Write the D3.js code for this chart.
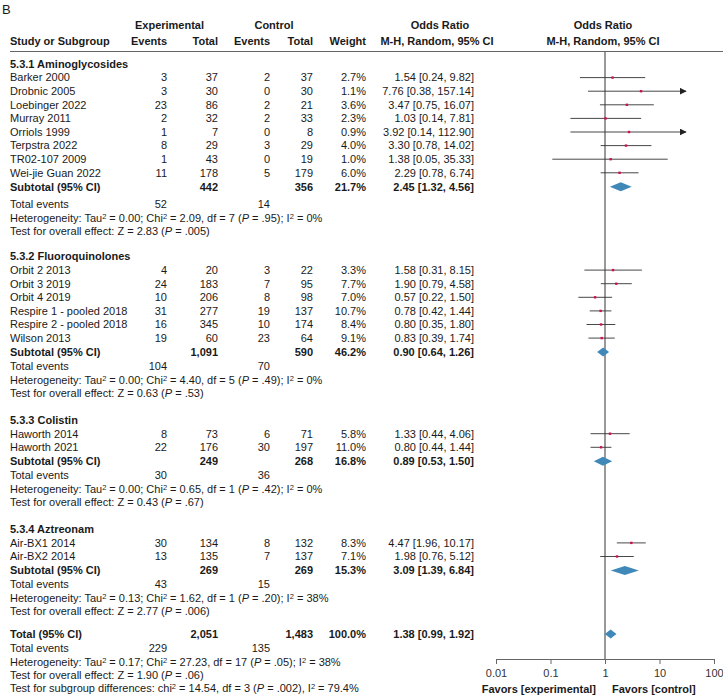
<!DOCTYPE html>
<html><head><meta charset="utf-8">
<script src="https://cdn.jsdelivr.net/npm/d3@7"></script>
<style>
html,body{margin:0;padding:0;background:#fff;}
svg{display:block;font-family:"Liberation Sans",Arial,Helvetica,sans-serif;}
</style></head>
<body><svg id="chart" width="723" height="697"></svg>
<script>
// ---------- data ----------
const groupTitles = ["5.3.1 Aminoglycosides","5.3.2 Fluoroquinolones","5.3.3 Colistin","5.3.4 Aztreonam"];
const studyNames = ["Barker 2000","Drobnic 2005","Loebinger 2022","Murray 2011","Orriols 1999","Terpstra 2022","TR02-107 2009","Wei-jie Guan 2022",
  "Orbit 2 2013","Orbit 3 2019","Orbit 4 2019","Respire 1 - pooled 2018","Respire 2 - pooled 2018","Wilson 2013",
  "Haworth 2014","Haworth 2021","Air-BX1 2014","Air-BX2 2014"];
const studyGroup = [0,0,0,0,0,0,0,0, 1,1,1,1,1,1, 2,2, 3,3];
const expEvents  = [3,3,23,2,1,8,1,11, 4,24,10,31,16,19, 8,22, 30,13];
const expTotals  = [37,30,86,32,7,29,43,178, 20,183,206,277,345,60, 73,176, 134,135];
const ctrlEvents = [2,0,2,2,0,3,0,5, 3,7,8,19,10,23, 6,30, 8,7];
const ctrlTotals = [37,30,21,33,8,29,19,179, 22,95,98,137,174,64, 71,197, 132,137];
const weights    = [2.7,1.1,3.6,2.3,0.9,4.0,1.0,6.0, 3.3,7.7,7.0,10.7,8.4,9.1, 5.8,11.0, 8.3,7.1];
const oddsRatios = [1.54,7.76,3.47,1.03,3.92,3.30,1.38,2.29, 1.58,1.90,0.57,0.78,0.80,0.83, 1.33,0.80, 4.47,1.98];
const ciLower    = [0.24,0.38,0.75,0.14,0.14,0.78,0.05,0.78, 0.31,0.79,0.22,0.42,0.35,0.39, 0.44,0.44, 1.96,0.76];
const ciUpper    = [9.82,157.14,16.07,7.81,112.90,14.02,35.33,6.74, 8.15,4.58,1.50,1.44,1.80,1.74, 4.06,1.44, 10.17,5.12];

const subExpTotals  = [442,1091,249,269];
const subCtrlTotals = [356,590,268,269];
const subWeights    = [21.7,46.2,16.8,15.3];
const subOR         = [2.45,0.90,0.89,3.09];
const subLower      = [1.32,0.64,0.53,1.39];
const subUpper      = [4.56,1.26,1.50,6.84];
const subExpEvents  = [52,104,30,43];
const subCtrlEvents = [14,70,36,15];
const hetTau = ["0.00","0.00","0.00","0.13"];
const hetChi = ["2.09","4.40","0.65","1.62"];
const hetDf  = [7,5,1,1];
const hetP   = [".95",".49",".42",".20"];
const hetI2  = ["0%","0%","0%","38%"];
const effZ   = ["2.83","0.63","0.43","2.77"];
const effP   = [".005",".53",".67",".006"];

const totalExp = 2051, totalCtrl = 1483, totalWeight = 100.0;
const totalOR = 1.38, totalLower = 0.99, totalUpper = 1.92;
const totalExpEvents = 229, totalCtrlEvents = 135;
const totalHet = {tau:"0.17", chi:"27.23", df:17, p:".05", i2:"38%"};
const totalEff = {z:"1.90", p:".06"};
const subgroupDiff = {chi:"14.54", df:3, p:".002", i2:"79.4%"};

const axisTicks = [0.01, 0.1, 1, 10, 100];
const axisTickLabels = ["0.01","0.1","1","10","100"];

// ---------- layout ----------
const svg = d3.select("#chart");
const FS = 11;
const ink = "#1a1a1a";
const col = {name:10, expEv:167, expTot:218, ctrlEv:270, ctrlTot:313, weight:366, orText:474};
const xMark = d3.scaleLog().domain([0.01,100]).range([524,686]);
const xAxis = d3.scaleLog().domain([0.01,100]).range([496,714]);
const fmtN = d3.format(",");
const fmt2 = d3.format(".2f");
const fmtW = v => d3.format(".1f")(v) + "%";
const orStr = (o,l,h) => `${fmt2(o)} [${fmt2(l)}, ${fmt2(h)}]`;

// build rows
const rows = [];
let y = 64;
groupTitles.forEach((g,gi) => {
  if (gi>0) y += (gi===1 ? 25.5 : 27);
  rows.push({type:"group", gi, y});
  studyNames.forEach((s,i) => { if (studyGroup[i]===gi){ y += 13.6; rows.push({type:"study", i, y}); }});
  y += 14; rows.push({type:"sub", gi, y});
  y += (gi===0 ? 17 : 13.8); rows.push({type:"events", gi, y});
  y += 14; rows.push({type:"het", gi, y});
  y += 13.2; rows.push({type:"eff", gi, y});
});
y = 634; rows.push({type:"total", y});
y += 14; rows.push({type:"tevents", y});
y += 14; rows.push({type:"thet", y});
y += 13; rows.push({type:"teff", y});
y += 13; rows.push({type:"tsub", y});

function txt(x, yy, s, opts={}) {
  return svg.append("text").attr("x",x).attr("y",yy).attr("dy","0.35em")
    .attr("font-size", opts.size||FS).attr("fill", opts.fill||ink)
    .attr("font-weight", opts.bold?"bold":null)
    .attr("text-anchor", opts.anchor||"start").text(s);
}
function rich(x, yy, parts) {
  const t = svg.append("text").attr("x",x).attr("y",yy).attr("dy","0.35em")
    .attr("font-size",FS).attr("fill",ink);
  parts.forEach(p => {
    if (typeof p === "string") t.append("tspan").text(p);
    else if (p.sup) t.append("tspan").attr("font-size",7.5).attr("baseline-shift","35%").text(p.sup);
    else if (p.it) t.append("tspan").attr("font-style","italic").text(p.it);
  });
  return t;
}

// panel label
txt(2, 9, "B", {size:13});

// headers
const h1 = 25, h2 = 41.5;
txt(169.5, h1, "Experimental", {bold:true, anchor:"middle"});
txt(274, h1, "Control", {bold:true, anchor:"middle"});
txt(440, h1, "Odds Ratio", {bold:true, anchor:"middle"});
txt(603, h1, "Odds Ratio", {bold:true, anchor:"middle"});
txt(col.name, h2, "Study or Subgroup", {bold:true});
txt(col.expEv, h2, "Events", {bold:true, anchor:"end"});
txt(col.expTot, h2, "Total", {bold:true, anchor:"end"});
txt(col.ctrlEv, h2, "Events", {bold:true, anchor:"end"});
txt(col.ctrlTot, h2, "Total", {bold:true, anchor:"end"});
txt(col.weight, h2, "Weight", {bold:true, anchor:"end"});
txt(437, h2, "M-H, Random, 95% CI", {bold:true, anchor:"middle"});
txt(603, h2, "M-H, Random, 95% CI", {bold:true, anchor:"middle"});
svg.append("line").attr("x1",10).attr("x2",723).attr("y1",51.5).attr("y2",51.5)
  .attr("stroke","#666").attr("stroke-width",1);

// axis
const axisY = 659;
const axisG = svg.append("g").attr("transform",`translate(0,${axisY})`)
  .call(d3.axisBottom(xAxis).tickValues(axisTicks).tickFormat((d,i)=>axisTickLabels[i]).tickSize(5).tickSizeOuter(0));
axisG.select(".domain").attr("stroke","#666");
axisG.selectAll(".tick line").attr("stroke","#666");
axisG.selectAll(".tick text").attr("font-size",FS).attr("fill","#333")
  .attr("font-family","Liberation Sans, Arial, sans-serif").attr("dy","0.9em");
txt(596, 689, "Favors [experimental]", {bold:true, anchor:"end"});
txt(612, 689, "Favors [control]", {bold:true});

// null line
svg.append("line").attr("x1",xMark(1)).attr("x2",xMark(1)).attr("y1",51.5).attr("y2",axisY)
  .attr("stroke","#555").attr("stroke-width",1.2);

// arrow marker
svg.append("defs").append("marker").attr("id","arr").attr("viewBox","0 0 10 10")
  .attr("refX",9).attr("refY",5).attr("markerWidth",7).attr("markerHeight",7)
  .attr("markerUnits","userSpaceOnUse").attr("orient","auto")
  .append("path").attr("d","M0,0 L10,5 L0,10 Z").attr("fill","#222");

const diamondColor = "#3f88b7";
function diamond(yy, o, l, h) {
  svg.append("path").attr("d",
    `M${xMark(l)},${yy} L${xMark(o)},${yy-4.5} L${xMark(h)},${yy} L${xMark(o)},${yy+4.5} Z`)
    .attr("fill",diamondColor);
}

rows.forEach(r => {
  if (r.type==="group") txt(col.name, r.y, groupTitles[r.gi], {bold:true});
  else if (r.type==="study") {
    const i = r.i;
    txt(col.name, r.y, studyNames[i]);
    txt(col.expEv, r.y, expEvents[i], {anchor:"end"});
    txt(col.expTot, r.y, fmtN(expTotals[i]), {anchor:"end"});
    txt(col.ctrlEv, r.y, ctrlEvents[i], {anchor:"end"});
    txt(col.ctrlTot, r.y, fmtN(ctrlTotals[i]), {anchor:"end"});
    txt(col.weight, r.y, fmtW(weights[i]), {anchor:"end"});
    txt(col.orText, r.y, orStr(oddsRatios[i],ciLower[i],ciUpper[i]), {anchor:"end"});
    const hiC = Math.min(ciUpper[i], 100), loC = Math.max(ciLower[i], 0.01);
    const ln = svg.append("line").attr("x1",xMark(loC)).attr("x2",xMark(hiC))
      .attr("y1",r.y).attr("y2",r.y).attr("stroke","#333").attr("stroke-width",0.9);
    if (ciUpper[i] > 100) ln.attr("marker-end","url(#arr)");
    const s = 2.4;
    svg.append("rect").attr("x",xMark(oddsRatios[i])-s/2).attr("y",r.y-s/2)
      .attr("width",s).attr("height",s).attr("fill","#d0104c");
  }
  else if (r.type==="sub") {
    const g = r.gi;
    txt(col.name, r.y, "Subtotal (95% CI)", {bold:true});
    txt(col.expTot, r.y, fmtN(subExpTotals[g]), {bold:true, anchor:"end"});
    txt(col.ctrlTot, r.y, fmtN(subCtrlTotals[g]), {bold:true, anchor:"end"});
    txt(col.weight, r.y, fmtW(subWeights[g]), {bold:true, anchor:"end"});
    txt(col.orText, r.y, orStr(subOR[g],subLower[g],subUpper[g]), {bold:true, anchor:"end"});
    diamond(r.y, subOR[g], subLower[g], subUpper[g]);
  }
  else if (r.type==="events") {
    txt(col.name, r.y, "Total events");
    txt(col.expEv, r.y, subExpEvents[r.gi], {anchor:"end"});
    txt(col.ctrlEv, r.y, subCtrlEvents[r.gi], {anchor:"end"});
  }
  else if (r.type==="het") {
    const g = r.gi;
    rich(col.name, r.y, ["Heterogeneity: Tau",{sup:"2"},` = ${hetTau[g]}; Chi`,{sup:"2"},` = ${hetChi[g]}, df = ${hetDf[g]} (`,{it:"P"},` = ${hetP[g]}); I`,{sup:"2"},` = ${hetI2[g]}`]);
  }
  else if (r.type==="eff") {
    rich(col.name, r.y, [`Test for overall effect: Z = ${effZ[r.gi]} (`,{it:"P"},` = ${effP[r.gi]})`]);
  }
  else if (r.type==="total") {
    txt(col.name, r.y, "Total (95% CI)", {bold:true});
    txt(col.expTot, r.y, fmtN(totalExp), {bold:true, anchor:"end"});
    txt(col.ctrlTot, r.y, fmtN(totalCtrl), {bold:true, anchor:"end"});
    txt(col.weight, r.y, fmtW(totalWeight), {bold:true, anchor:"end"});
    txt(col.orText, r.y, orStr(totalOR,totalLower,totalUpper), {bold:true, anchor:"end"});
    diamond(r.y, totalOR, totalLower, totalUpper);
  }
  else if (r.type==="tevents") {
    txt(col.name, r.y, "Total events");
    txt(col.expEv, r.y, totalExpEvents, {anchor:"end"});
    txt(col.ctrlEv, r.y, totalCtrlEvents, {anchor:"end"});
  }
  else if (r.type==="thet") {
    rich(col.name, r.y, ["Heterogeneity: Tau",{sup:"2"},` = ${totalHet.tau}; Chi`,{sup:"2"},` = ${totalHet.chi}, df = ${totalHet.df} (`,{it:"P"},` = ${totalHet.p}); I`,{sup:"2"},` = ${totalHet.i2}`]);
  }
  else if (r.type==="teff") {
    rich(col.name, r.y, [`Test for overall effect: Z = ${totalEff.z} (`,{it:"P"},` = ${totalEff.p})`]);
  }
  else if (r.type==="tsub") {
    rich(col.name, r.y, ["Test for subgroup differences: chi",{sup:"2"},` = ${subgroupDiff.chi}, df = ${subgroupDiff.df} (`,{it:"P"},` = ${subgroupDiff.p}), I`,{sup:"2"},` = ${subgroupDiff.i2}`]);
  }
});
</script></body></html>
